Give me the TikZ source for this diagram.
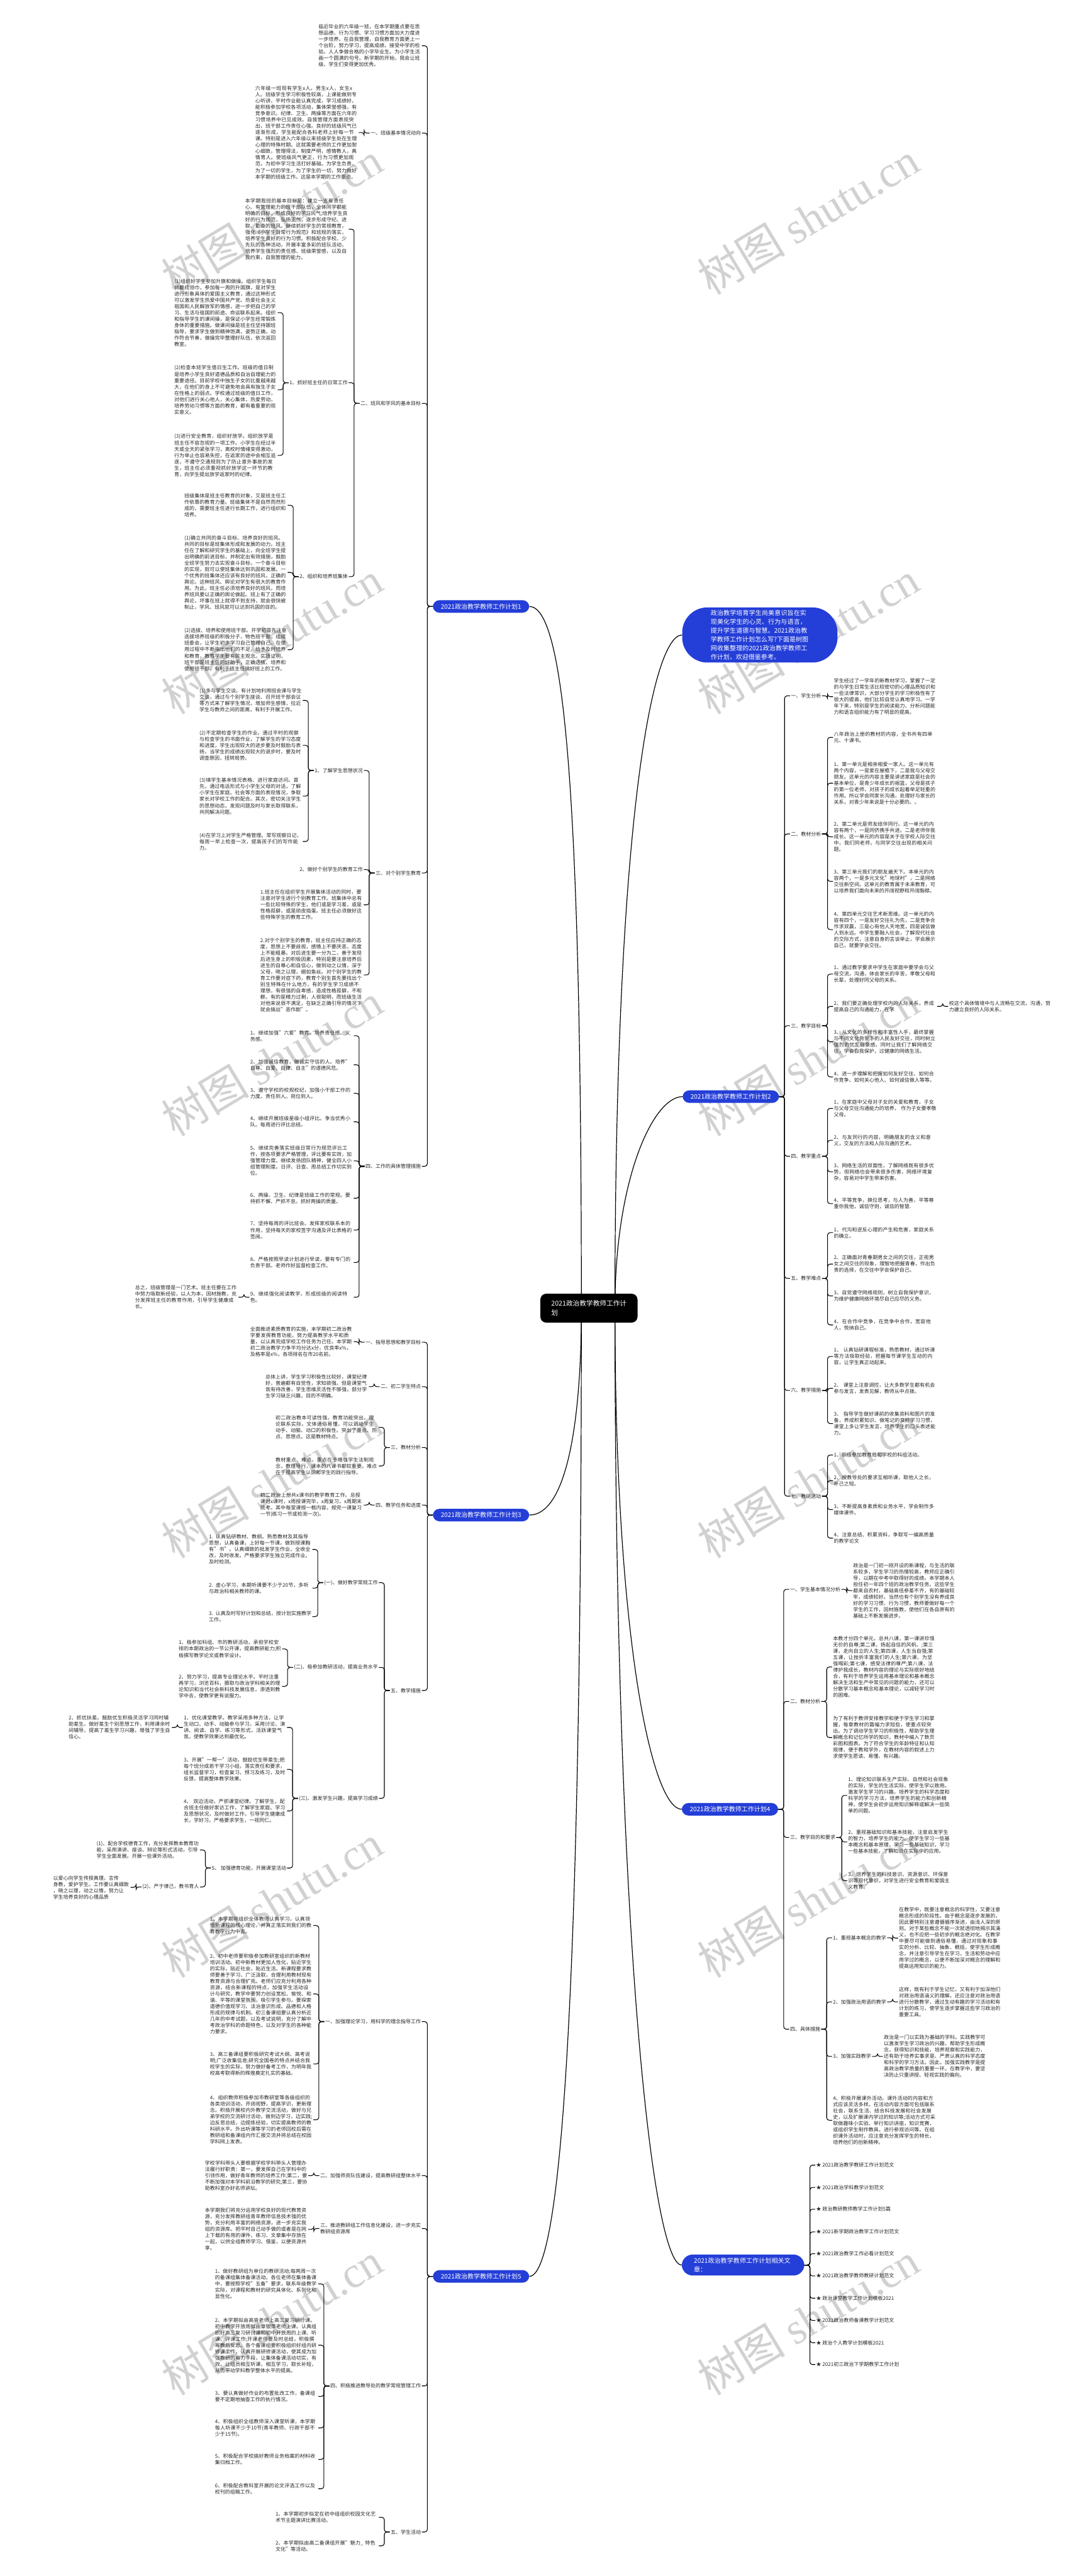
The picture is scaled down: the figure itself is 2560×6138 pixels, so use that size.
\documentclass[tikz,border=0pt]{standalone}
\usepackage{fontspec}
\setmainfont{Noto Sans CJK SC}
\newfontfamily\wmfont{Liberation Serif}
\XeTeXlinebreaklocale "zh"
\XeTeXlinebreakskip=0pt plus 1pt
\usetikzlibrary{backgrounds}
\definecolor{mapblue}{RGB}{36,62,216}
\definecolor{inkc}{RGB}{38,38,38}
\tikzset{
  txt/.style={font=\fontsize{12}{15}\selectfont,text=inkc,align=left,inner sep=2pt},
  para/.style={txt,text width=#1},
  para/.default=244pt,
  lbl/.style={txt},
  topic/.style={fill=mapblue,text=white,align=left,rounded corners=16pt,font=\fontsize{15}{20}\selectfont,inner xsep=19pt,inner ysep=8pt},
  hub/.style={fill=black,text=white,align=left,rounded corners=14pt,font=\fontsize{16}{22}\selectfont,inner xsep=26pt,inner ysep=16pt},
  link/.style={line width=1.6pt,rounded corners=6pt},
  trunk/.style={line width=1.8pt},
  wm/.style={text=black!18,rotate=31,font=\fontsize{105}{105}\selectfont}
}
\newcommand{\kidl}[5][244pt]{\node[para=#1,anchor=east] (#2) at ([xshift=-26pt]#3.west |- 0,#4) {#5};
  \draw[link] (#3.west) -- ++(-13pt,0) |- (#2.east);}
\newcommand{\kidr}[5][244pt]{\node[para=#1,anchor=west] (#2) at ([xshift=26pt]#3.east |- 0,#4) {#5};
  \draw[link] (#3.east) -- ++(13pt,0) |- (#2.west);}
\newcommand{\labl}[4]{\node[lbl,anchor=east] (#1) at ([xshift=-26pt]#2.west |- 0,#3) {#4};
  \draw[link] (#2.west) -- ++(-13pt,0) |- (#1.east);}
\newcommand{\labr}[4]{\node[lbl,anchor=west] (#1) at ([xshift=26pt]#2.east |- 0,#3) {#4};
  \draw[link] (#2.east) -- ++(13pt,0) |- (#1.west);}

\begin{document}
\begin{tikzpicture}[x=1pt,y=-1pt]
\useasboundingbox (0,0) rectangle (2560,6138);
\foreach \wy in {520,1520,2525,3530,4530,5525}{
  \node[wm] (wl\wy) at (648,\wy) {树图 {\wmfont shutu.cn}};
  \node[wm] (wr\wy) at (1925,\wy) {树图 {\wmfont shutu.cn}};
}

\node[hub] (ctr) at (1403,3117) {2021政治教学教师工作计\\划};
\node[topic,anchor=east] (c1) at (1261,1445) {2021政治教学教师工作计划1};
\node[topic,anchor=east] (c3) at (1261,3610) {2021政治教学教师工作计划3};
\node[topic,anchor=east] (c5) at (1261,5424) {2021政治教学教师工作计划5};
\node[topic,anchor=west,text width=234pt,rounded corners=60pt,inner xsep=68pt,inner ysep=6pt,font=\fontsize{15}{21}\selectfont] (intro) at (1625,1513) {政治教学培育学生尚美意识旨在实现美化学生的心灵、行为与语言，提升学生道德与智慧。2021政治教学教师工作计划怎么写?下面是树图网收集整理的2021政治教学教师工作计划，欢迎借鉴参考。};
\node[topic,anchor=west] (c2) at (1626,2613) {2021政治教学教师工作计划2};
\node[topic,anchor=west] (c4) at (1624,4311) {2021政治教学教师工作计划4};
\node[topic,anchor=west,text width=234pt,inner xsep=29pt,rounded corners=26pt] (rel) at (1624,5397) {2021政治教学教师工作计划相关文章：};

% plan 1
\kidl{p0}{c1}{109}{临近毕业的六年级一班，在本学期重点要在思想品德、行为习惯、学习习惯方面加大力度进一步培养。在自我管理，自我教育方面更上一个台阶。努力学习，提高成绩、接受中学的检验。人人争做合格的小学毕业生。为小学生活画一个圆满的句号。新学期的开始，我会让班级、学生们变得更加优秀。}
\labl{b1}{c1}{317}{一、班级基本情况动向}
\kidl{p1}{b1}{316}{六年级一班现有学生x人。男生x人，女生x人。班级学生学习积极性较高，上课能做到专心听讲，平时作业能认真完成，学习成绩好。能积极参加学校各项活动，集体荣誉感强，有竞争意识。纪律、卫生、两操等方面在六年的习惯培养中已见成效。自我管理方面表现突出，班干部工作责任心强。良好的班级风气已逐渐形成，学生能配合各科老师上好每一节课。特别是进入六年级以来班级学生处在生理心理的特殊时期。这就需要老师的工作更加耐心细致，管理得法，制度严明，感情教人，真情育人。使班级风气更正，行为习惯更加规范，为初中学习生活打好基础。为学生负责，为了一切的学生，为了学生的一切，努力做好本学期的班级工作。这是本学期的工作重点。}
\labl{b2}{c1}{961}{二、班风和学风的基本目标}
\kidl{p2}{b2}{546}{本学期我班的基本目标是：建立一支有责任心、有管理能力的班干部队伍，全体同学都能明确的目标，形成良好的学习风气;培养学生良好的行为规范，弘扬正气，逐步形成守纪、进取、勤奋的班风。继续抓好学生的常规教育，强化《小学生日常行为规范》和班规的落实，培养学生良好的行为习惯。积极配合学校、少先队的各种活动，开展丰富多彩的班队活动，培养学生强烈的责任感、班级荣誉感，以及自我约束，自我管理的能力。}
\labl{b21}{b2}{912}{1、抓好班主任的日常工作}
\kidl{q1}{b21}{745}{(1)组织好学生参加升旗和做操。组织学生每日佩戴红领巾，参加每一周的升国旗，是对学生进行形象具体的爱国主义教育，通过这种形式可以激发学生热爱中国共产党、热爱社会主义祖国和人民解放军的情感，进一步把自己的学习、生活与祖国的前途、命运联系起来。组织和指导学生的课间操，是保证小学生经常锻炼身体的重要措施。做课间操是班主任坚持跟班指导，要求学生做到精神饱满，姿势正确，动作符合节奏，做操完毕整理好队伍，依次返回教室。}
\kidl{q2}{b21}{929}{(2)检查本班学生值日生工作。班级的值日制是培养小学生良好道德品质和自治自理能力的重要途径。目前学校中独生子女的比重越来越大，在他们的身上不可避免地会具有独生子女在性格上的弱点。学校通过班级的值日工作，对他们进行关心他人，关心集体，热爱劳动，培养劳动习惯等方面的教育，都有着重要的现实意义。}
\kidl{q3}{b21}{1085}{(3)进行安全教育，组织好放学。组织放学是班主任不容忽视的一项工作。小学生在经过半天或全天的紧张学习，离校时情绪变得激动，行为举止也容易失控，在返家的途中会相互追逐，不遵守交通规则为了防止意外事故的发生，班主任必须重视抓好放学这一环节的教育，向学生提出放学返家时的纪律。}
\labl{b22}{b2}{1374}{2、组织和培养班集体}
\kidl{q4}{b22}{1204}{班级集体是班主任教育的对象，又是班主任工作依靠的教育力量。班级集体不是自然而然形成的，需要班主任进行长期工作，进行组织和培养。}
\kidl{q5}{b22}{1364}{(1)确立共同的奋斗目标、培养良好的班风。共同的目标是班集体形成和发展的动力。班主任在了解和研究学生的基础上，向全班学生提出明确的前进目标，并制定出有效措施，鼓励全班学生努力去实现奋斗目标，一个奋斗目标的实现，就可以使班集体达到巩固和发展。一个优秀的班集体还应该有良好的班风，正确的舆论。这种班风、舆论对学生有很大的教育作用。为此，班主任必须培养良好的班风，而培养班风要以正确的舆论做起。班上有了正确的舆论，坏事在班上就得不到支持，就会很快被制止，学风、班风就可以达到巩固的目的。}
\kidl{q6}{b22}{1548}{(2)选拔、培养和使用班干部。开学初首先注意选拔培养班级的积极分子，物色班干部，组成班委会，让学生初步学习自己管理自己。在使用过程中不断指出他们的不足，给予及时培养和教育，教育学生要有民主观念。实践证明，班干部是班主任的好助手，正确选拔、培养和使用班干部，有利于班主任搞好班上的工作。}
\labl{b3}{c1}{2080}{三、对个别学生教育}
\labl{b31}{b3}{1836}{1、了解学生思想状况}
\kidl{r1}{b31}{1669}{(1)多与学生交谈。有计划地利用班会课与学生交谈，通过与个别学生座谈、召开班干部会议等方式来了解学生情况，增加师生感情，拉近学生与教师之间的距离，有利于开展工作。}
\kidl{r2}{b31}{1776}{(2)不定期检查学生的作业。通过平时的观察与检查学生的书面作业，了解学生的学习态度和进度，学生出现较大的进步要及时鼓励与表扬，当学生的成绩出现较大的退步时，要及时调查原因，扭转局势。}
\kidl{r3}{b31}{1897}{(3)填学生基本情况表格、进行家庭访问。首先，通过电话形式与小学生父母的对话，了解小学生在家庭、社会等方面的表现情况，争取家长对学校工作的配合。其次，密切关注学生的思想动态，发现问题及时与家长取得联系，共同解决问题。}
\kidl{r4}{b31}{2005}{(4)在学习上对学生严格管理。常写观察日记，每周一早上检查一次，提高孩子们的写作能力。}
\labl{b32}{b3}{2072}{2、做好个别学生的教育工作}
\kidl{r5}{b3}{2156}{1.班主任在组织学生开展集体活动的同时，要注意对学生进行个别教育工作。班集体中总有一些比较特殊的学生，他们或是学习差，或是性格孤僻，或是顽皮捣蛋。班主任必须做好这些特殊学生的教育工作。}
\kidl{r6}{b3}{2323}{2.对于个别学生的教育，班主任应持正确的态度，思想上不要歧视，感情上不要厌恶，态度上不能粗暴。对后进生要一分为二，善于发现后进生身上的积极因素，特别是要注意培养后进生的自尊心和自信心，做到动之以情，深于父母，晓之以理，细如鱼丝。对个别学生的教育工作要对症下药，教育个别生首先要找出个别生特殊在什么地方，有的学生学习成绩不理想，有很强的自卑感，造成性格孤僻，不和群。有的是精力过剩，人很聪明，而班级生活对他来说很不满足，在缺乏正确引导的情况下就会搞出"恶作剧"。}
\labl{b4}{c1}{2779}{四、工作的具体管理措施}
\kidl{s1}{b4}{2468}{1、继续加强"六爱"教育。培养责任感、义务感。}
\kidl{s2}{b4}{2537}{2、加强诚信教育，做诚实守信的人。培养"自尊、自爱、自律、自主"的道德风范。}
\kidl{s3}{b4}{2605}{3、遵守学校的校规校纪，加强小干部工作的力度。责任到人。岗位到人。}
\kidl{s4}{b4}{2673}{4、继续开展班级星级小组评比。争当优秀小队。每周进行评比总结。}
\kidl{s5}{b4}{2766}{5、继续完善落实班级日常行为规范评比工作，按各项要求严格管理，评比要有实效，加强管理力度。继续发扬团队精神，健全四人小组管理制度。日评、日查、周总结工作切实到位。}
\kidl{s6}{b4}{2855}{6、两操、卫生、纪律是班级工作的常规。要持抓不懈、严抓不怠。抓好两操的质量。}
\kidl{s7}{b4}{2931}{7、坚持每周的评比班会。发挥家校联系本的作用，坚持每天的家校签字沟通及评比表格的签阅。}
\kidl{s8}{b4}{3008}{8、严格按照早读计划进行早读，要有专门的负责干部。老师作好监督检查工作。}
\kidl{s9}{b4}{3091}{9、继续强化阅读教学，形成班级的阅读特色。}
\kidl{zz}{s9}{3091}{总之，班级管理是一门艺术。班主任要在工作中努力吸取新经验，以人为本，因材施教，充分发挥班主任的教育作用，引导学生健康成长。}

% plan 3
\labl{t1}{c3}{3198}{一、指导思想和教学目标}
\kidl{t1a}{t1}{3197}{全面推进素质教育的实施，本学期初二政治教学要发挥教育功能，努力提高教学水平和质量，以认真完成学校工作任务为己任。本学期初二政治教学力争平均分达x分，优良率x\%，及格率是x\%，各项排名在市20名前。}
\labl{t2}{c3}{3304}{二、初二学生特点}
\kidl{t2a}{t2}{3304}{总体上讲，学生学习积极性比较好，课堂纪律好，普遍都有自觉性，求知欲强。但是课堂气氛有待改善，学生思维灵活性不够强，部分学生学习缺乏兴趣，目的不明确。}
\labl{t3}{c3}{3449}{三、教材分析}
\kidl{t3a}{t3}{3401}{初二政治教本可读性强，教育功能突出，理论联系实际，文体通俗易懂，可以调动学生动手、动脑、动口的积极性。突出了重点、热点、思想点。这是教材特点。}
\kidl{t3b}{t3}{3493}{教材重点、难点。重点在于增强学生法制观念，教理导行，课本的八课书都较重要。难点在于提高学生认识和学生的践行指导。}
\labl{t4}{c3}{3586}{四、教学任务和进度}
\kidl{t4a}{t4}{3586}{初二政治上册共x课书的教学教育工作。总授课时x课时，x周授课完毕，x周复习，x周期末统考。其中每堂课授一框内容，授完一课复习一节(练习一节或检测一次)。}
\labl{t5}{c3}{4028}{五、教学措施}
\labl{u1}{t5}{3771}{(一)、做好教学常规工作}
\kidl{u1a}{u1}{3692}{1. 认真钻研教材、教纲。熟悉教材及其指导思想，认真备课，上好每一节课。做到授课胸有"书"。认真细致的批发学生作业，全收全改，及时收发。严格要求学生独立完成作业。及时检测。}
\kidl{u1b}{u1}{3784}{2. 虚心学习，本期听课要不少于20节，多听与政治科相关教师的课。}
\kidl{u1c}{u1}{3852}{3. 认真及时写好计划和总结，按计划实施教学工作。}
\labl{u2}{t5}{3973}{(二)、极参加教研活动，提高业务水平}
\kidl{u2a}{u2}{3929}{1、极参加科组、市的教研活动，承担学校安排的本期政治的一节公开课，提高教研能力;积极撰写教学论文或教学设计。}
\kidl{u2b}{u2}{4018}{2、努力学习，提高专业理论水平。平时注重再学习，浏览百科，摄取与政治学科相关的理论知识和当代社会新科技发展信息，渗透到教学中去，使教学更有说服力。}
\labl{u3}{t5}{4285}{(三)、激发学生兴趣，提高学习成绩}
\kidl{v1}{u3}{4116}{1、优化课堂教学。教学采用多种方法，让学生动口、动手、动脑参与学习，采用讨论、演讲、阅读、自学、练习等形式，活跃课堂气氛，使教学效果达到最优化。}
\kidl{v1a}{v1}{4116}{2、抓优扶差。鼓励优生积极灵活学习同时辅助差生。做好差生个别思想工作，利用课余时间辅导，提高了差生学习兴趣，增强了学生自信心。}
\kidl{v3}{u3}{4216}{3、开展"一帮一"活动，鼓励优生带差生;把每个班分成若干学习小组，落实责任和要求，组长监督学习，检查复习、预习及练习，及时反馈，提高整体教学效果。}
\kidl{v4}{u3}{4315}{4、 双边活动，严抓课堂纪律。了解学生，配合班主任做好家访工作，了解学生家庭、学习及思想状况，及时做好工作，引导学生健康成长，学好习。严格要求学生，一视同仁。}
\labl{v5}{u3}{4451}{5、 加强德育功能，开展课堂活动}
\kidl{w1}{v5}{4408}{(1)、配合学校德育工作，充分发挥教本教育功能，采用演讲、座谈、辩论等形式活动，引导学生全面发展。开展一些课外活动。}
\labl{w2}{v5}{4496}{(2)、严于律己，教书育人}
\kidl[182pt]{w2a}{w2}{4497}{以爱心向学生传授真理。言传\\身教，爱护学生。工作要认真细致\\，晓之以理，动之以情，努力让\\学生培养良好的心理品质}

% plan 5
\labl{x1}{c5}{4817}{一、加强理论学习，用科学的理念指导工作}
\kidl{x1a}{x1}{4588}{1、本学期将组织全体教师认真学习，认真领悟新课程的核心理论，并真正落实到我们的教育教学行为中去。}
\kidl{x1b}{x1}{4751}{2、初中老师要积极参加教研室组织的新教材培训活动。初中新教材更加人性化，贴近学生的实际，贴近社会，贴近生活。新课程要求教师要善于学习、广泛汲取，合理利用教材现有教育资源与合理扩充。老师们应充分利用各种资源，结合新课程的特点，加强学生活动设计与研究，教学中要努力创设宽松、愉悦、和谐、平等的课堂氛围，吸引学生参与。要探索道德价值观学习、法治意识形成、品德和人格形成的规律与机制。初三备课组要认真分析近几年的中考试题，以及考试说明，充分了解中考政治学科的命题特色，以及对学生的各种能力要求。}
\kidl{x1c}{x1}{4918}{3、高三备课组要积极研究考试大纲、高考说明;广泛收集信息;研究全国卷的特点并结合我校学生的实际，努力做好备考工作，为明年我校高考取得新的辉煌奠定扎实的基础。}
\kidl{x1d}{x1}{5051}{4、组织教师积极参加市教研室等各级组织的各类培训活动，开阔视野，提高学识，更新理念。积极开展校内外教学交流活动，做好与兄弟学校的交流研讨活动，做到边学习，边实践;边反思总结，边提炼经验，切实提高教师的教科研水平。外出听课等学习的老师回校后需在教研组和备课组内作汇报交流并将总结在校园学科网上发表。}
\labl{x2}{c5}{5184}{二、加强师资队伍建设，提高教研组整体水平}
\kidl{x2a}{x2}{5184}{学校学科带头人要根据学校学科带头人管理办法履行好职责：第一，要发挥自己在学科中的引领作用，做好青年教师的培养工作;第二，要不断加强对本学科前沿教学的研究;第三，要协助教科室办好名师讲坛。}
\labl{x3}{c5}{5310}{三、推进教研组工作信息化建设，进一步充实\\教研组资源库}
\kidl{x3a}{x3}{5312}{本学期我们将充分运用学校良好的现代教育资源，充分发挥教研组青年教师信息技术强的优势，充分利用丰富的网络资源，进一步充实我组的资源库。把平时自己动手做的或者是在网上下载的有用的课件、练习、文章集中存放在一起，以供全组教师学习、借鉴，以便资源共享。}
\labl{x4}{c5}{5685}{四、积极推进教导处的教学常规管理工作}
\kidl{x4a}{x4}{5442}{1、做好教研组为单位的教研活动;每两周一次的备课组集体备课活动。各位老师在集体备课中，要按照学校"五备"要求，联系年级教学实际，对课程和教材的研究具体化、系列化和显性化。}
\kidl{x4b}{x4}{5588}{2、本学期拟由高音老师上高三复习研讨课。初中教学开放周拟由章银萍老师上课。认真组织好高三复习研讨课和初中开放周的上课、听课、评课工作;开课老师要及时总结，积极撰写教后反思。各个备课组要积极组织好组内研修课工作，认真开展研修课活动，使其成为加强教研的有力手段，让集体备课活动切实，有效。让组员相互听课，相互学习，取长补短，从而带动学科教学整体水平的提高。}
\kidl{x4c}{x4}{5710}{3、要认真做好作业的布置批改工作，备课组要不定期地抽查工作的执行情况。}
\kidl{x4d}{x4}{5785}{4、积极组织全组教师深入课堂听课，本学期每人听课不少于10节(青年教师、行政干部不少于15节)。}
\kidl{x4e}{x4}{5860}{5、积极配合学校搞好教师业务档案的材料收集归档工作。}
\kidl{x4f}{x4}{5930}{6、积极配合教科室开展的论文评选工作以及校刊的组稿工作。}
\labl{x5}{c5}{6033}{五、学生活动}
\kidl{x5a}{x5}{5998}{1、本学期初步拟定在初中组组织校园文化艺术节主题演讲比赛活动。}
\kidl{x5b}{x5}{6066}{2、本学期拟由高二备课组开展"魅力\_ 特色文化"等活动。}

% plan 2
\labr{y1}{c2}{1658}{一、学生分析}
\kidr{y1a}{y1}{1660}{学生经过了一学年的新教材学习，掌握了一定的与学生日常生活比较密切的心理品质知识和一些法律常识，大部分学生的学习积极性有了很大的提高，他们比较自觉认真地学习。一学年下来，特别是学生的阅读能力、分析问题能力和语言组织能力有了明显的提高。}
\labr{y2}{c2}{1987}{二、教材分析}
\kidr{y2a}{y2}{1757}{八年政治上册的教材的内容，全书共有四单元、十课书。}
\kidr{y2b}{y2}{1866}{1、第一单元是相亲相爱一家人。这一单元有两个内容，一是爱在屋檐下，二是我与父母交朋友。这单元的内容主要是讲述家庭是社会的基本单位，是青少年成长的摇篮，父母是孩子的第一位老师，对孩子的成长起着举足轻重的作用。所以学会同家长沟通，处理好与家长的关系，对青少年来说是十分必要的。。}
\kidr{y2c}{y2}{1994}{2、第二单元是师友结伴同行。这一单元的内容有两个，一是同侪携手共进。二是老师伴我成长。这一单元的内容是关于在学校人际交往中，我们同老师，与同学交往出现的相关问题。}
\kidr{y2d}{y2}{2100}{3、第三单元我们的朋友遍天下。本单元的内容两个，一是多元文化"地球村"，二是网络交往新空间。这单元的教育属于未来教育，可以培养我们面向未来的开阔视野和开阔胸襟。}
\kidr{y2e}{y2}{2215}{4、第四单元交往艺术新思维。这一单元的内容有四个，一是友好交往礼为先，二是竞争合作求双赢，三是心有他人天地宽，四是诚信做人到永远。中学生要融入社会，了解现代社会的交际方式，注意自身的言谈举止，学会展示自己，就要学会交往。}
\labr{y3}{c2}{2444}{三、教学目标}
\kidr{y3a}{y3}{2321}{1、通过教学要求中学生在家庭中要学会与父母交流，沟通，体会家长的辛苦，孝敬父母和长辈，处理好同父母的关系。}
\kidr{y3b}{y3}{2398}{2、我们要正确处理学校内的人际关系，养成提高自己的沟通能力，在学}
\kidr{y3bb}{y3b}{2398}{校这个具体情境中与人流畅在交流，沟通，努力建立良好的人际关系。}
\kidr{y3c}{y3}{2482}{3、从文化的多样性和丰富性入手，最终掌握与不同文化背景下的人民友好交往，同时树立强烈的忧乱自豪感。同时让我们了解网络交往，学会自我保护，过健康的网络生活。}
\kidr{y3d}{y3}{2566}{4、进一步理解和把握如何友好交往、如何合作竞争、如何关心他人、如何诚信做人等等。}
\labr{y4}{c2}{2755}{四、教学重点}
\kidr{y4a}{y4}{2641}{1、在家庭中父母对子女的关爱和教育，子女与父母交往沟通能力的培养， 作为子女要孝敬父母。}
\kidr{y4b}{y4}{2717}{2、与友同行的内容，明确朋友的含义和意义，交友的方法和人际沟通的艺术。}
\kidr{y4c}{y4}{2792}{3、网络生活的双面性，了解网络既有很多优势，但网络也会带来很多伤害，网络环境复杂，容易对中学生带来伤害。}
\kidr{y4d}{y4}{2868}{4、平等竞争，换位思考，与人为善，平等尊重你我他，诚信守则，诚信的智慧.}
\labr{y5}{c2}{3046}{五、教学难点}
\kidr{y5a}{y5}{2937}{1、代沟和逆反心理的产生和危害，家庭关系的确立。}
\kidr{y5b}{y5}{3012}{2、正确面对青春期男女之间的交往，正视男女之间交往的现象，理智地把握青春，作出负责的选择，在交往中学会保护自己。}
\kidr{y5c}{y5}{3088}{3、自觉遵守网络规则，树立自我保护意识，为维护健康网络环境尽自己应尽的义务。}
\kidr{y5d}{y5}{3157}{4、在合作中竞争，在竞争中合作，宽容他人，悦纳自己。}
\labr{y6}{c2}{3313}{六、教学措施}
\kidr{y6a}{y6}{3232}{1、 认真钻研课程标准，熟悉教材，通过听课等方法吸取经验，把握每节课学生互动的内容，让学生真正动起来。}
\kidr{y6b}{y6}{3308}{2、 课堂上注意调控，让大多数学生都有机会参与发言，发表见解，教师从中点拨。}
\kidr{y6c}{y6}{3392}{3、 指导学生做好课前的收集资料和图片的准备，养成积累知识、做笔记的良好学习习惯，课堂上多让学生发言，培养学生的口头表述能力。}
\labr{y7}{c2}{3565}{七、教研活动}
\kidr{y7a}{y7}{3467}{1、积极参加教育局和学校的科组活动。}
\kidr{y7b}{y7}{3528}{2、按教导处的要求互相听课，取他人之长，补己之短。}
\kidr{y7c}{y7}{3597}{3、不断提高身素质和业务水平，学会制作多媒体课件。}
\kidr{y7d}{y7}{3665}{4、注意总结、积累资料，争取写一编高质量的教学论文}

% plan 4
\labr{z1}{c4}{3787}{一、学生基本情况分析}
\kidr{z1a}{z1}{3790}{政治是一门初一刚开设的新课程，与生活的联系较多，学生学习的热情较高，教师应正确引导，以期在中考中取得好的成绩。本学期本人担任初一年四个班的政治教学任务。这些学生都来自农村，基础高低参差不齐，有的基础较牢，成绩较好。当然也有个别学生没有养成良好的学习习惯、行为习惯，教师要做好每一个学生的工作，因材施教，使他们在各自原有的基础上不断发展进步。}
\labr{z2}{c4}{4054}{二、教材分析}
\kidr{z2a}{z2}{3972}{本教才分四个单元，总共八课，第一课讲珍惜无价的自尊;第二课，扬起自信的风帆、;第三课，走向自立的人生;第四课，人生当自强;第五课，让挫折丰富我们的人生;第六课，为坚强喝彩;第七课，感受法律的尊严;第八课，法律护我成长，教材内容的理论与实际很好地结合，有利于培养学生运用基本理论和基本概念解决生活和生产中常见的问题的能力，还可以分散学习基本概念和基本理论，以减轻学习时的困难。}
\kidr{z2b}{z2}{4140}{为了有利于教师安排教学和便于学生学习和掌握，每章教材的篇幅力求短些，使重点较突出。为了调动学生学习的积极性，帮助学生理解概念和记忆所学的知识，教材中编入了数页彩图和图表。为了符合学生的年龄特征和认知规律，便于教和学外，在教材内容的叙述上力求使学生愿读、易懂、有兴趣。}
\labr{z3}{c4}{4378}{三、教学目的和要求}
\kidr{z3a}{z3}{4278}{1、理论知识联系生产实际、自然和社会现象的实际，学生的生活实际，使学生学以致用。激发学生学习的兴趣。培养学生的科学态度和科学的学习方法，培养学生的能力和创新精神，使学生会初步运用知识解释或解决一些简单的问题。}
\kidr{z3b}{z3}{4389}{2、重视基础知识和基本技能，注意启发学生的智力，培养学生的能力。使学生学习一些基本概念和基本原理，学习一些基础知识，学习一些基本技能，了解知识在实际中的应用。}
\kidr{z3c}{z3}{4481}{3、培养学生的科技意识、资源意识、环保意识等现代意识，对学生进行安全教育和爱国主义教育。}
\labr{z4}{c4}{4835}{四、具体措施}
\labr{z41}{z4}{4617}{1、重视基本概念的教学}
\kidr{z41a}{z41}{4618}{在教学中，既要注意概念的科学性，又要注意概念形成的阶段性。由于概念是逐步发展的，因此要特别注意遵循循序渐进，由浅人深的原则。对于某些概念不能一次就透彻地揭示其涌义，也不应把一些初步的概念绝对化。在教学中要尽可能做到通俗易懂，通过对现象和事实的分析、比较、抽象、概括，使学生形成概念，并注意引导学生在学习，生活和劳动中应用学过的概念，以便不断加深对概念的理解和提高运用知识的能力。}
\labr{z42}{z4}{4770}{2、加强政治用语的教学}
\kidr{z42a}{z42}{4770}{这样，既有利于学生记忆，又有利于加深他们对政治用语涵义的理解。还应注意对政治用语进行分散教学，通过生动有趣的学习活动和有计划的练习，使学生逐步掌握这些学习政治的重要工具。}
\labr{z43}{z4}{4900}{3、加强实践教学}
\kidr{z43a}{z43}{4900}{政治是一门以实践为基础的学科。实践教学可以激发学生学习政治的兴趣，帮助学生形成概念，获得知识和技能，培养观察和实践能力，还有助于培养实事求是、严肃认真的科学态度和科学的学习方法。因此，加强实践教学是提高政治教学质量的重要一环。在教学中，要坚决防止只重讲授、轻视实践的偏向。}
\kidr{z44}{z4}{5052}{4、积极开展课外活动。课外活动的内容和方式应该灵活多样。在活动内容方面可包括联系社会，联系生活、结合科技发展和社会发展史，以及扩展课内学过的知识等;活动方式可采取做趣味小实验、举行知识讲座，知识竞赛，或组织学生制作教具，进行参观访问等。在组织课外活动时，应注意充分发挥学生的特长，培养他们的创新精神。}

% related
\labr{a1}{rel}{5159}{★ 2021政治教学教研工作计划范文}
\labr{a2}{rel}{5212}{★ 2021政治学科教学计划范文}
\labr{a3}{rel}{5264}{★ 政治教研教师教学工作计划5篇}
\labr{a4}{rel}{5318}{★ 2021新学期政治教学工作计划范文}
\labr{a5}{rel}{5370}{★ 2021政治教学工作必看计划范文}
\labr{a6}{rel}{5423}{★ 2021政治教学教师教研计划范文}
\labr{a7}{rel}{5476}{★ 政治课堂教学工作计划模板2021}
\labr{a8}{rel}{5529}{★ 2021政治教师备课教学计划范文}
\labr{a9}{rel}{5582}{★ 政治个人教学计划模板2021}
\labr{a10}{rel}{5634}{★ 2021初三政治下学期教学工作计划}

\begin{scope}[on background layer]
\fill[white] (0,0) rectangle (2560,6138);
\draw[trunk] (c1.east) .. controls +(84,0) and (1385,1900) .. ([xshift=-18pt]ctr.center);
\draw[trunk] (c3.east) .. controls +(84,0) and (1385,3410) .. ([xshift=-18pt]ctr.center);
\draw[trunk] (c5.east) .. controls +(84,0) and (1385,4600) .. ([xshift=-18pt]ctr.center);
\draw[trunk] (intro.west) .. controls +(-70,0) and (1465,1950) .. ([xshift=62pt]ctr.center);
\draw[trunk] (c2.west) .. controls +(-70,0) and (1465,2810) .. ([xshift=62pt]ctr.center);
\draw[trunk] (c4.west) .. controls +(-70,0) and (1465,3910) .. ([xshift=62pt]ctr.center);
\draw[trunk] (rel.west) .. controls +(-70,0) and (1465,4600) .. ([xshift=62pt]ctr.center);
\end{scope}
\end{tikzpicture}
\end{document}
